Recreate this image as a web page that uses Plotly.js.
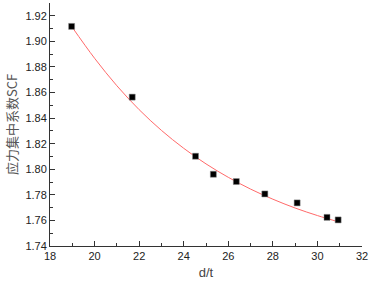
<!DOCTYPE html>
<html>
<head>
<meta charset="utf-8">
<script src="https://cdn.plot.ly/plotly-3.0.1.min.js"></script>
<style>html,body{margin:0;padding:0;background:#fff;}#chart{width:372px;height:283px;}</style>
</head>
<body>
<div id="chart"></div>
<script>
// measured points
const dt = [18.97, 21.69, 24.53, 25.33, 26.36, 27.64, 29.09, 30.43, 30.93];
const scf = [1.9117, 1.8564, 1.8102, 1.7961, 1.7904, 1.7807, 1.7737, 1.7624, 1.7604];
// fitted curve
const fitX = [18.97, 20, 21, 22, 23, 24, 25, 26, 27, 28, 29, 30, 31];
const fitY = [1.9117, 1.8868, 1.8653, 1.8466, 1.8304, 1.8164, 1.8042, 1.7937, 1.7845, 1.7766, 1.7697, 1.7638, 1.7586];

const xTitle = 'd/t';
const yTitle = '应力集中系数SCF';

const traces = [
  {x: fitX, y: fitY, mode: 'lines', line: {color: '#ff6a6a', width: 1, shape: 'spline'}, hoverinfo: 'skip'},
  {x: dt, y: scf, mode: 'markers', marker: {symbol: 'square', size: 6, color: '#000', line: {color: '#888', width: 0.5}}}
];

const axisCommon = {
  showgrid: false, zeroline: false, showline: true, linecolor: '#333', linewidth: 1,
  ticks: 'inside', ticklen: 5, tickwidth: 1, tickcolor: '#333',
  tickfont: {family: 'Liberation Sans, Arial, sans-serif', size: 11, color: '#222'},
  mirror: false
};

const layout = {
  width: 372, height: 283,
  margin: {l: 50, r: 10, t: 3, b: 37},
  paper_bgcolor: '#fff', plot_bgcolor: '#fff',
  showlegend: false,
  xaxis: Object.assign({}, axisCommon, {
    range: [18, 32], dtick: 2, tick0: 18,
    minor: {dtick: 1, ticks: 'inside', ticklen: 3, tickcolor: '#333'},
    title: {text: xTitle, font: {family: 'Liberation Sans, Arial, sans-serif', size: 13, color: '#444'}, standoff: 6}
  }),
  yaxis: Object.assign({}, axisCommon, {
    range: [1.74, 1.93], dtick: 0.02, tick0: 1.74, tickformat: '.2f',
    minor: {dtick: 0.01, ticks: 'inside', ticklen: 3, tickcolor: '#333'},
    title: {text: yTitle, font: {family: 'Noto Sans CJK SC, Liberation Sans, sans-serif', size: 13, color: '#555'}, standoff: 4}
  })
};

Plotly.newPlot('chart', traces, layout, {displayModeBar: false, staticPlot: true});
</script>
</body>
</html>
